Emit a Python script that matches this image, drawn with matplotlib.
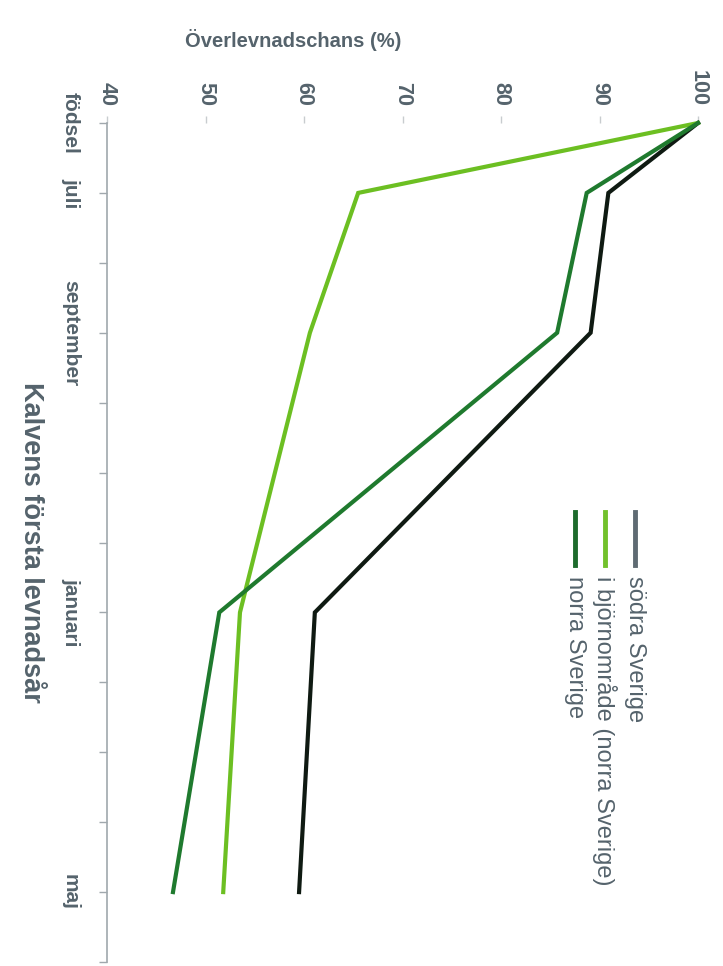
#!/usr/bin/env python
import matplotlib
matplotlib.use("Agg")
import matplotlib.pyplot as plt
from matplotlib.lines import Line2D

# months from birth (0 = födsel) and labels shown on the time axis
months = [0, 1, 3, 7, 11]
month_labels = ["födsel", "juli", "september", "januari", "maj"]

# survival chance (%) per series
sodra = [100, 90.9, 89.1, 61.1, 59.5]
bjorn = [100, 65.5, 60.6, 53.5, 51.8]
norra = [100, 88.7, 85.7, 51.4, 46.7]

series_names = ["södra Sverige", "i björnområde (norra Sverige)", "norra Sverige"]
line_colors = ["#0f1a12", "#6cbf22", "#1f7a2e"]
legend_colors = ["#5f6b73", "#72c12c", "#1d6b2c"]

value_ticks = [40, 50, 60, 70, 80, 90, 100]

W, H = 723, 966
txt = "#55636c"
plt.rcParams['font.family'] = ['Liberation Sans', 'DejaVu Sans']

fig = plt.figure(figsize=(W / 100, H / 100), dpi=100)
ax = fig.add_axes([107 / W, 4 / H, (698 - 107) / W, (962 - 123) / H])

for vals, col in zip([sodra, bjorn, norra], line_colors):
    ax.plot(vals, months, color=col, lw=3, solid_joinstyle='miter', clip_on=False)

ax.set_xlim(40, 100)
ax.set_ylim(12, 0)

# value axis on top, labels rotated
ax.xaxis.tick_top()
ax.set_xticks(value_ticks)
ax.set_xticklabels([str(v) for v in value_ticks], rotation=-90,
                   fontsize=15.5, fontweight='bold', color=txt)
ax.tick_params(axis='x', length=5, width=1, color="#c8cccf", pad=7)

# time axis on the left
ax.set_yticks(range(13))
lab = [""] * 13
for m, l in zip(months, month_labels):
    lab[m] = l
ax.set_yticklabels(lab, rotation=-90, fontsize=15, fontweight='bold', color=txt,
                   va='center')
ax.tick_params(axis='y', length=6, width=1, color="#a0a8ad", pad=13.5)

for s in ['top', 'right', 'bottom']:
    ax.spines[s].set_visible(False)
ax.spines['left'].set_color("#a0a8ad")
ax.spines['left'].set_linewidth(1.2)

fig.text(293 / W, 1 - 40 / H, "Överlevnadschans (%)", ha='center', va='center',
         fontsize=14.5, fontweight='bold', color=txt)
fig.text(31 / W, 1 - 542 / H, "Kalvens första levnadsår", ha='center', va='center',
         rotation=-90, fontsize=19.5, fontweight='bold', color=txt)

# legend, drawn rotated like the rest of the chart
for i, (name, col) in enumerate(zip(series_names, legend_colors)):
    x = (635 - 30 * i) / W
    fig.add_artist(Line2D([x, x], [1 - 512 / H, 1 - 565 / H], color=col, lw=3.5,
                          transform=fig.transFigure))
    fig.text(x, 1 - 576 / H, name, ha='center', va='top', rotation=-90,
             fontsize=17, color=txt)

plt.savefig("out.png", dpi=100)
